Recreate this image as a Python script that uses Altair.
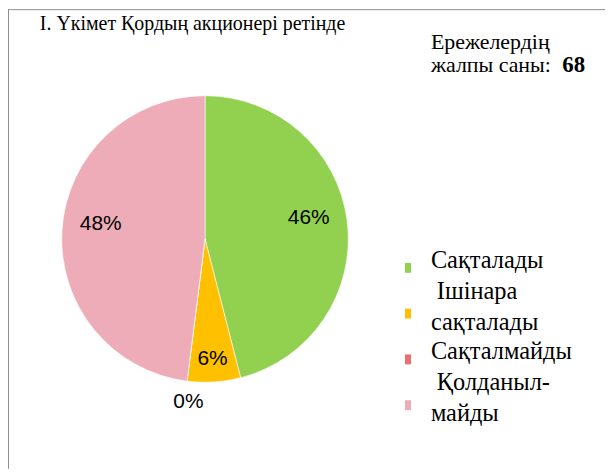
import altair as alt
import pandas as pd

categories = ["Сақталады", "Ішінара сақталады", "Сақталмайды", "Қолданылмайды"]
legend_line1 = ["Сақталады", "Ішінара", "Сақталмайды", "Қолданыл-"]
legend_line2 = ["", "сақталады", "", "майды"]
legend_lines = [1, 2, 1, 2]
values = [46, 6, 0, 48]
value_labels = ["46%", "6%", "0%", "48%"]
colors = ["#92D050", "#FFC000", "#E8706E", "#EDACB8"]

title_text = "I. Үкімет Қордың акционері ретінде"
note_line1 = "Ережелердің"
note_line2 = "жалпы саны:"
note_total = "68"

df = pd.DataFrame({
    "cat": categories,
    "l1": legend_line1,
    "l2": legend_line2,
    "lines": legend_lines,
    "val": values,
    "lbl": value_labels,
    "idx": list(range(len(categories))),
})
one = pd.DataFrame({"t": [title_text], "n1": [note_line1], "n2": [note_line2], "n3": [note_total]})

W, H = 600, 462
CX, CY, R = 198, 231, 144
SERIF = "Liberation Serif, DejaVu Serif, serif"
SANS = "Liberation Sans, Arial, sans-serif"

color_scale = alt.Scale(domain=categories, range=colors)

base = alt.Chart(df)

pie = base.mark_arc(stroke="white", strokeWidth=0.6).encode(
    theta=alt.Theta("val:Q", stack=True),
    color=alt.Color("cat:N", scale=color_scale, legend=None),
    order=alt.Order("idx:Q", sort="ascending"),
    x=alt.value(CX),
    y=alt.value(CY),
    radius=alt.value(R),
)


def label_layer(cats, radius, dx=0, dy=0):
    pred = alt.FieldOneOfPredicate(field="cat", oneOf=cats)
    return base.mark_text(
        font=SANS, fontSize=21, color="black", dx=dx, dy=dy
    ).encode(
        theta=alt.Theta("val:Q", stack=True),
        order=alt.Order("idx:Q", sort="ascending"),
        x=alt.value(CX),
        y=alt.value(CY),
        radius=alt.value(radius),
        text=alt.condition(pred, alt.Text("lbl:N"), alt.value("")),
    )


lab_big = label_layer([categories[0], categories[3]], 105, dy=-8)
lab_yel = label_layer([categories[1]], 121)
lab_zero = label_layer([categories[2]], 165, dx=4)

# custom legend
leg_y = alt.Y("cat:N", scale=alt.Scale(domain=categories, range=[260, 398], type="point", padding=0), axis=None)
leg_sym = base.mark_point(
    shape="M-0.6,-1H0.6V1H-0.6Z", filled=True, size=100, opacity=1, strokeWidth=0
).encode(
    x=alt.value(402),
    y=leg_y,
    color=alt.Color("cat:N", scale=color_scale, legend=None),
)


def leg_text(field, nlines, dx, dy):
    return base.mark_text(
        font=SERIF, fontSize=24.5, color="black", align="left", baseline="middle", dx=dx, dy=dy
    ).encode(
        x=alt.value(425),
        y=leg_y,
        text=alt.condition(alt.datum.lines == nlines, alt.Text(f"{field}:N"), alt.value("")),
    )


leg_single = leg_text("l1", 1, 0, -7)
leg_first = leg_text("l1", 2, 6, -22)
leg_second = leg_text("l2", 2, 0, 9)

ann = alt.Chart(one)
title = ann.mark_text(
    font=SERIF, fontSize=20, align="left", baseline="alphabetic", color="black"
).encode(x=alt.value(32), y=alt.value(21), text="t:N")
note1 = ann.mark_text(
    font=SERIF, fontSize=22, align="left", baseline="alphabetic", color="black"
).encode(x=alt.value(425), y=alt.value(40), text="n1:N")
note2 = ann.mark_text(
    font=SERIF, fontSize=22, align="left", baseline="alphabetic", color="black"
).encode(x=alt.value(425), y=alt.value(63), text="n2:N")
note3 = ann.mark_text(
    font=SERIF, fontSize=23, fontWeight="bold", align="left", baseline="alphabetic", color="black"
).encode(x=alt.value(557), y=alt.value(63), text="n3:N")

border_left = ann.mark_rule(color="#8f8f8f", strokeWidth=2).encode(
    x=alt.value(0), y=alt.value(0), y2=alt.value(H)
)
border_top = ann.mark_rule(color="#8f8f8f", strokeWidth=1).encode(
    x=alt.value(0), x2=alt.value(W), y=alt.value(0.5)
)

chart = alt.layer(
    pie, lab_big, lab_yel, lab_zero, leg_sym, leg_single, leg_first, leg_second,
    title, note1, note2, note3, border_left, border_top
).properties(
    width=W, height=H, autosize=alt.AutoSizeParams(type="none"), padding=0
).configure_view(stroke=None)

chart.save("out.html", embed_options={"renderer": "svg", "actions": False})
